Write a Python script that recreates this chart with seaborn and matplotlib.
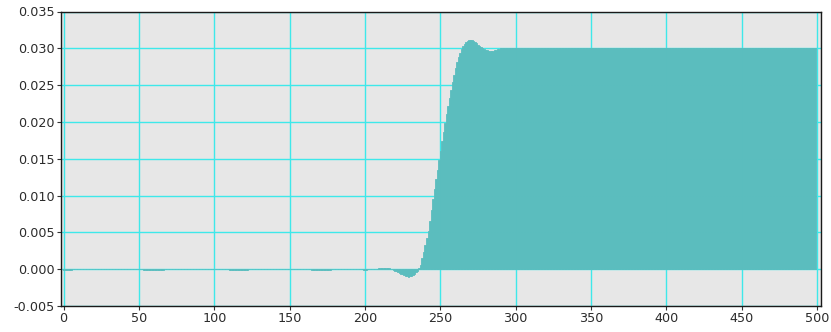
import matplotlib
matplotlib.use("Agg")
import matplotlib.pyplot as plt
import numpy as np
import pandas as pd
import seaborn as sns

# --- data -------------------------------------------------------------
# quiet lead-in: zero with a few small negative ripples (samples 0..204)
lead = ([-0.00005] * 6 + [0.0] * 47 + [-0.0001] * 14 + [0.0] * 43 +
        [-0.0001] * 13 + [0.0] * 42 + [-0.0001] * 13 + [0.0] * 21 +
        [-0.00008] * 3 + [0.0] * 3)

# pre-shoot, undershoot, rise and overshoot (samples 205..300)
transition = [
    0.0, 0.0, 0.00003, 0.00008, 0.00013, 0.00017, 0.0002, 0.00022,
    0.00022, 0.0002, 0.00016, 0.0001, 0.00004, -0.00003, -0.0001, -0.0002,
    -0.0003, -0.0004, -0.0005, -0.0006, -0.0007, -0.0008, -0.0009, -0.00098,
    -0.001, -0.00098, -0.0009, -0.0008, -0.0006, -0.0004, -0.0002, 0.0001,
    0.0006, 0.0015, 0.0024, 0.0033, 0.0042, 0.0052, 0.0066, 0.0081,
    0.0095, 0.0109, 0.0122, 0.0135, 0.0148, 0.0161, 0.0174, 0.0187,
    0.0199, 0.0211, 0.0222, 0.0233, 0.0244, 0.0254, 0.0264, 0.0273,
    0.0281, 0.0288, 0.0294, 0.0299, 0.0303, 0.0306, 0.0308, 0.0310,
    0.0311, 0.0311, 0.0311, 0.0310, 0.0309, 0.0307, 0.0305, 0.0303,
    0.0302, 0.0300, 0.0299, 0.0298, 0.0298, 0.0297, 0.0297, 0.0297,
    0.0297, 0.0298, 0.0298, 0.0299, 0.0299, 0.0300, 0.0300, 0.0301,
    0.0301, 0.0301, 0.0301, 0.0301, 0.0301, 0.0301, 0.0300, 0.0300,
]

# settled level (samples 301..499)
settled = [0.0300] * 199

values = lead + transition + settled
samples = list(range(len(values)))

x_ticks = [0, 50, 100, 150, 200, 250, 300, 350, 400, 450, 500]
y_ticks = [-0.005, 0.000, 0.005, 0.010, 0.015, 0.020, 0.025, 0.030, 0.035]

# --- style ------------------------------------------------------------
BAR = "#5bbdbe"
GRID = "#3ee8ea"
FACE = "#e7e7e7"

sns.set_theme(style="white")
plt.rcParams["font.family"] = ["DejaVu Sans"]

fig = plt.figure(figsize=(8.31, 3.32), dpi=100)
ax = fig.add_axes([61 / 831, 1 - 306 / 332, 760 / 831, 294.5 / 332])
ax.set_facecolor(FACE)

df = pd.DataFrame({"sample": samples, "value": values})
sns.barplot(data=df, x="sample", y="value", native_scale=True, width=1.0,
            color=BAR, saturation=1, errorbar=None, linewidth=0.6,
            edgecolor=BAR, ax=ax)

ax.set_xlim(-1.7, 502.6)
ax.set_ylim(-0.005, 0.035)
ax.set_xticks(x_ticks)
ax.set_yticks(y_ticks)
ax.set_xticklabels([str(t) for t in x_ticks])
ax.set_yticklabels([f"{t:.3f}" for t in y_ticks])
ax.set_xlabel("")
ax.set_ylabel("")

ax.set_axisbelow(True)
ax.grid(True, color=GRID, linewidth=1.0)

for side in ["left", "right", "top", "bottom"]:
    ax.spines[side].set_visible(True)
    ax.spines[side].set_color("#1a1a1a")
    ax.spines[side].set_linewidth(1.0)

ax.tick_params(axis="both", which="both", direction="out", length=3,
               width=0.8, color="#333333", labelsize=9.2,
               labelcolor="#2b2b2b", pad=1.5, bottom=True, left=True)

fig.savefig("out.png", dpi=100)
